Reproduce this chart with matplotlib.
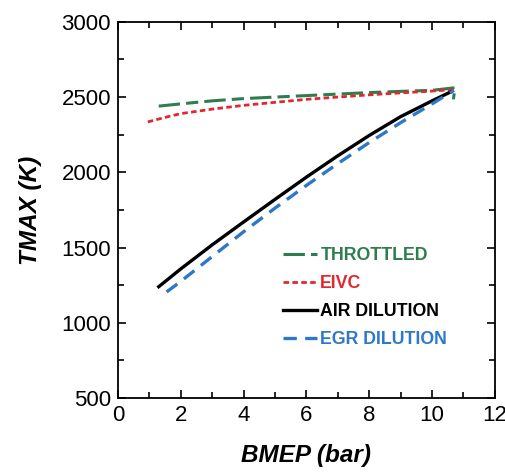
import matplotlib
matplotlib.use("Agg")
import matplotlib.pyplot as plt
from matplotlib.ticker import MultipleLocator

plt.rcParams['font.family'] = ['Liberation Sans', 'DejaVu Sans']

# peak temperature vs load for the four load-control strategies
thr_bmep = [1.3, 2, 3, 4, 5, 6, 7, 8, 9, 10, 10.73, 10.68]
thr_tmax = [2440, 2455, 2475, 2490, 2500, 2510, 2520, 2530, 2538, 2545, 2562, 2485]

eivc_bmep = [0.95, 1.5, 2, 3, 4, 5, 6, 7, 8, 9, 10, 10.7]
eivc_tmax = [2335, 2365, 2390, 2420, 2445, 2465, 2485, 2500, 2515, 2528, 2540, 2550]

air_bmep = [1.3, 2, 3, 4, 5, 6, 7, 8, 9, 10, 10.6]
air_tmax = [1240, 1358, 1518, 1670, 1820, 1968, 2110, 2245, 2370, 2475, 2535]

egr_bmep = [1.55, 2, 3, 4, 5, 6, 7, 8, 9, 10, 10.7]
egr_tmax = [1205, 1275, 1440, 1605, 1762, 1913, 2058, 2198, 2330, 2455, 2545]

fig = plt.figure(figsize=(5.06, 4.75), dpi=100)
ax = fig.add_axes([0.233, 0.162, 0.745, 0.792])

ax.plot(thr_bmep, thr_tmax, color='#2e7d4f', lw=2.2, dashes=(7, 2, 4, 2), label='THROTTLED')
ax.plot(eivc_bmep, eivc_tmax, color='#e0282e', lw=2.0, dashes=(2, 1.2), label='EIVC')
ax.plot(air_bmep, air_tmax, color='black', lw=2.4, label='AIR DILUTION')
ax.plot(egr_bmep, egr_tmax, color='#2f78c8', lw=2.4, dashes=(4, 2.5), label='EGR DILUTION')

ax.set_xlim(0, 12)
ax.set_ylim(500, 3000)
ax.xaxis.set_major_locator(MultipleLocator(2))
ax.xaxis.set_minor_locator(MultipleLocator(1))
ax.yaxis.set_major_locator(MultipleLocator(500))
ax.yaxis.set_minor_locator(MultipleLocator(250))
ax.tick_params(which='both', direction='in', top=True, right=True, width=1.2)
ax.tick_params(which='major', length=6, labelsize=16, pad=5)
ax.tick_params(which='minor', length=4)
for s in ax.spines.values():
    s.set_linewidth(1.3)

ax.set_xlabel('BMEP (bar)', fontsize=17.5, fontweight='bold', style='italic', labelpad=13)
ax.set_ylabel('TMAX (K)', fontsize=17.5, fontweight='bold', style='italic', labelpad=14)

leg = ax.legend(loc='upper left', bbox_to_anchor=(0.419, 0.42), borderaxespad=0,
                frameon=False, labelcolor='linecolor', handlelength=1.9,
                handletextpad=0.2, labelspacing=0.62,
                prop={'weight': 'bold', 'size': 12.8})

fig.savefig('out.png', dpi=100)
